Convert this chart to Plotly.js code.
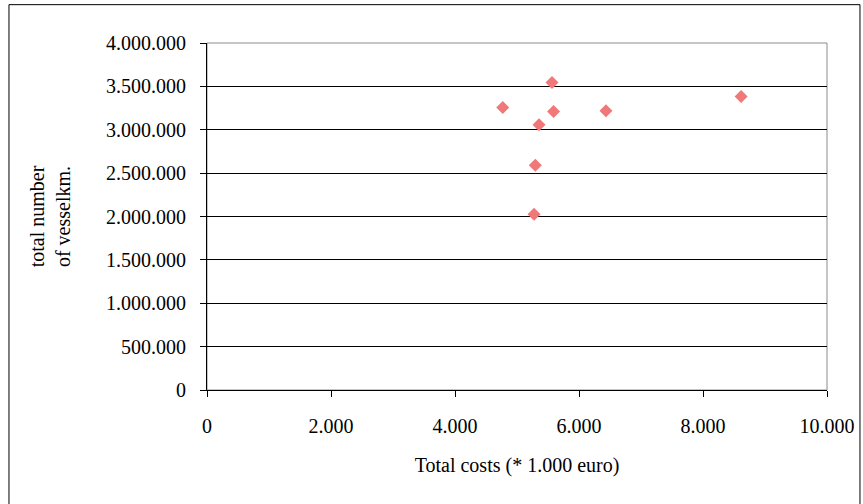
<!DOCTYPE html>
<html>
<head>
<meta charset="utf-8">
<script src="https://cdn.plot.ly/plotly-3.0.1.min.js"></script>
<style>
html,body{margin:0;padding:0;background:#fff;}
#chart{width:863px;height:504px;}
</style>
</head>
<body>
<div id="chart"></div>
<script>
// Data (x: total costs in 1.000 euro, y: total number of vesselkm.)
var totalCosts = [4770, 5565, 5590, 5355, 5295, 5275, 6435, 8615];
var vesselKm   = [3257000, 3546000, 3211000, 3057000, 2592000, 2027000, 3219000, 3384000];
var xTickVals = [0, 2000, 4000, 6000, 8000, 10000];
var yTickVals = [0, 500000, 1000000, 1500000, 2000000, 2500000, 3000000, 3500000, 4000000];

var serif = "'Liberation Serif', 'Times New Roman', serif";

var trace = {
  type: 'scatter',
  mode: 'markers',
  x: totalCosts,
  y: vesselKm,
  marker: {symbol: 'diamond', size: 10, color: '#F07878', line: {width: 0}},
  hoverinfo: 'x+y'
};

var layout = {
  width: 863,
  height: 504,
  margin: {l: 207, r: 36, t: 43, b: 114, pad: 0},
  paper_bgcolor: '#ffffff',
  plot_bgcolor: '#ffffff',
  separators: ',.',
  showlegend: false,
  font: {family: serif, size: 20, color: '#000'},
  xaxis: {
    range: [0, 10000],
    tickvals: xTickVals,
    tickformat: ',d',
    showgrid: false,
    zeroline: false,
    showline: true,
    linecolor: '#000',
    linewidth: 1,
    ticks: 'outside',
    ticklen: 6,
    tickcolor: '#000',
    ticklabelstandoff: 12,
    tickfont: {family: serif, size: 20, color: '#000'},
    title: {text: 'Total costs (* 1.000 euro)', font: {family: serif, size: 20, color: '#000'}, standoff: 21},
    automargin: false,
    fixedrange: true
  },
  yaxis: {
    range: [0, 4000000],
    tickvals: yTickVals,
    tickformat: ',d',
    showgrid: true,
    gridcolor: '#000',
    gridwidth: 1,
    zeroline: false,
    showline: true,
    linecolor: '#000',
    linewidth: 1,
    ticks: 'outside',
    ticklen: 6,
    tickcolor: '#000',
    ticklabelstandoff: 10,
    tickfont: {family: serif, size: 20, color: '#000'},
    title: {text: 'total number<br>of vesselkm.', font: {family: serif, size: 20, color: '#000'}, standoff: 30},
    automargin: false,
    fixedrange: true
  },
  shapes: [
    {type: 'rect', xref: 'paper', yref: 'paper', x0: 0, x1: 1, y0: 0, y1: 1,
     line: {color: '#8c8c8c', width: 1}, layer: 'below'},
    {type: 'rect', xref: 'paper', yref: 'paper', x0: -0.3194, x1: 1.0532, y0: -0.35, y1: 1.1105,
     line: {color: '#000', width: 1}, layer: 'below'}
  ]
};

Plotly.newPlot('chart', [trace], layout, {displayModeBar: false, staticPlot: true});
</script>
</body>
</html>
